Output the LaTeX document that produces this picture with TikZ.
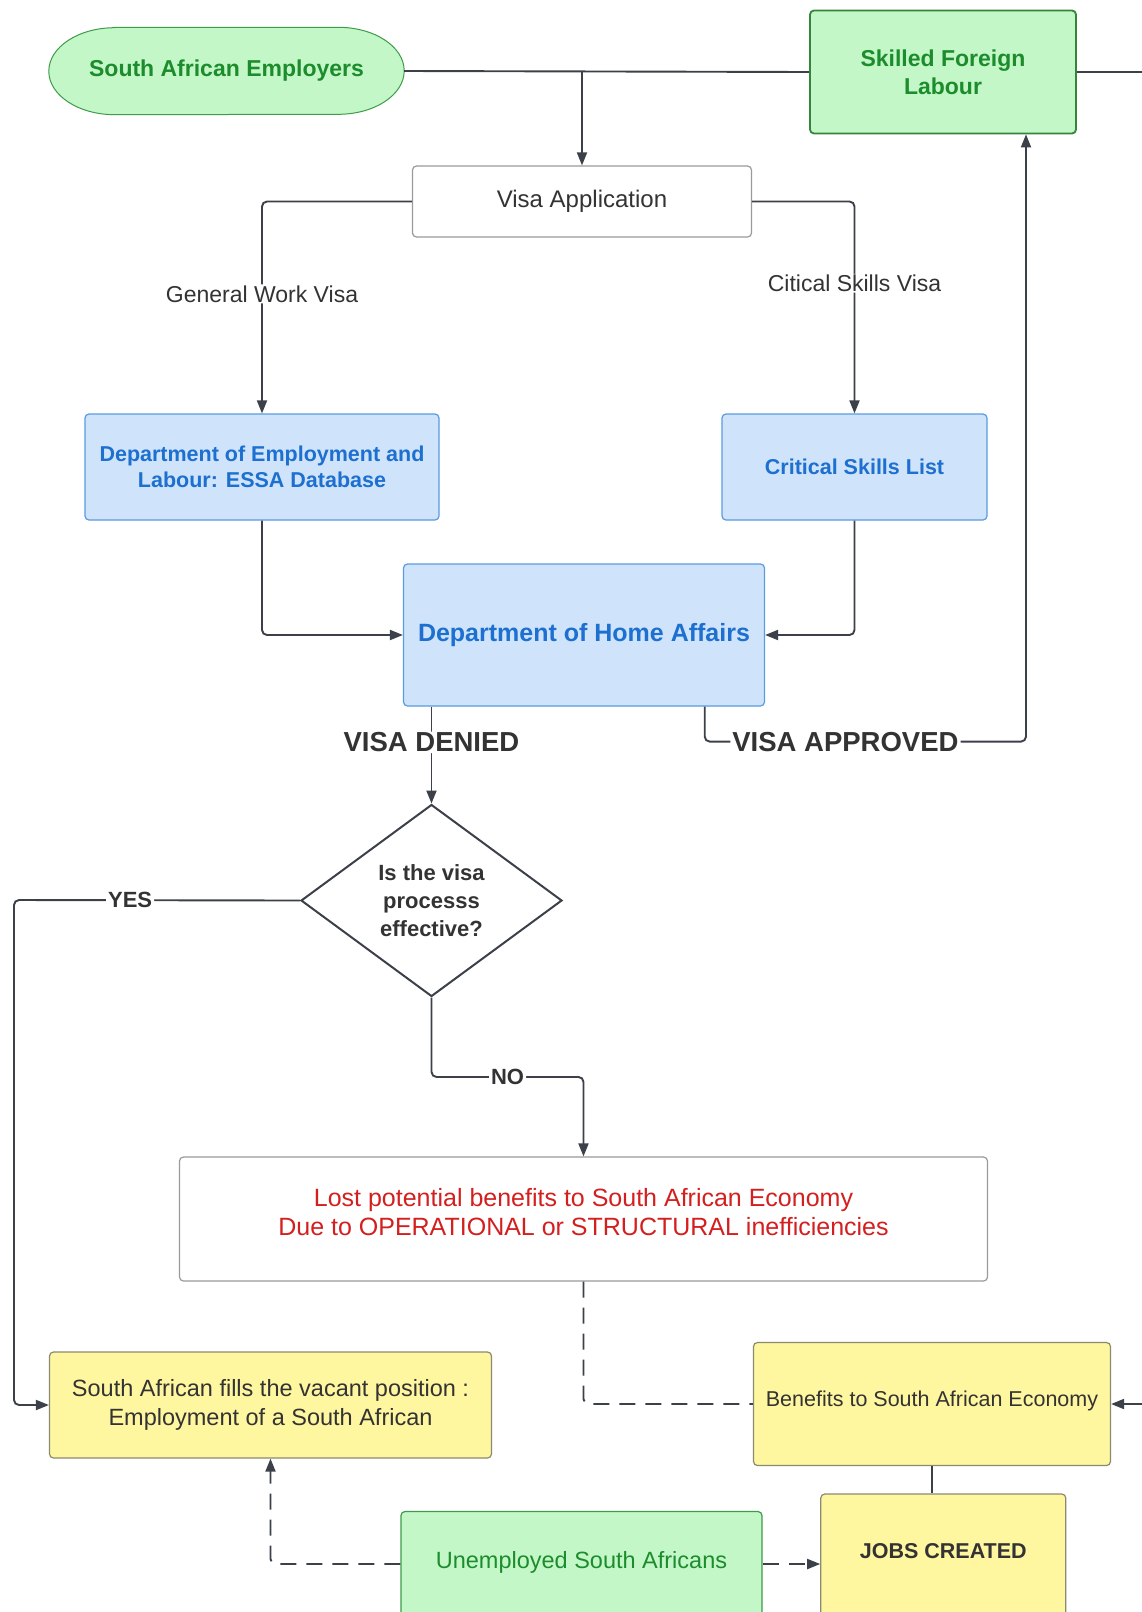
\documentclass[tikz,border=0pt]{standalone}
\usepackage{fontspec}
\setmainfont{Liberation Sans}
\usetikzlibrary{arrows.meta,shapes.geometric,calc,backgrounds}
\definecolor{linec}{HTML}{3B4049}
\definecolor{gfill}{HTML}{C3F7C8}
\definecolor{gdraw}{HTML}{3E9C48}
\definecolor{gtext}{HTML}{1C8C2C}
\definecolor{bfill}{HTML}{CFE4FA}
\definecolor{bdraw}{HTML}{5A9BE0}
\definecolor{btext}{HTML}{1D6FD0}
\definecolor{yfill}{HTML}{FFF6A0}
\definecolor{ydraw}{HTML}{8C8A6E}
\definecolor{wdraw}{HTML}{9A9A9A}
\definecolor{textc}{HTML}{333333}
\definecolor{redc}{HTML}{D41F1F}
\newcommand{\fs}[2]{\fontsize{#1}{#2}\selectfont}
\begin{document}
\begin{tikzpicture}[x=1pt,y=-1pt,
  box/.style={draw, rounded corners=4pt, align=center, inner sep=0pt, line width=1.2pt},
  greenbox/.style={box, fill=gfill, draw=gdraw, text=gtext},
  bluebox/.style={box, fill=bfill, draw=bdraw, text=btext},
  yellowbox/.style={box, fill=yfill, draw=ydraw, text=textc},
  whitebox/.style={box, fill=white, draw=wdraw, text=textc},
  conn/.style={draw=linec, line width=1.9pt, rounded corners=5pt},
  arr/.style={conn, -{Triangle[length=13pt,width=10pt]}},
  dconn/.style={conn, dash pattern=on 16pt off 10pt},
  darr/.style={dconn, -{Triangle[length=13pt,width=10pt]}},
  lbl/.style={fill=white, inner xsep=2pt, inner ysep=1pt, text=textc},
]
\useasboundingbox (0,0) rectangle (1142,1612);

% nodes
\node[minimum width=355pt, minimum height=87pt, inner sep=0pt, text=gtext, font=\bfseries\fs{23}{28}] (emp) at (226.5,71) {South African Employers};
\begin{scope}[on background layer]
\fill[white] (0,0) rectangle (1142,1612);
\filldraw[fill=gfill, draw=gdraw, line width=1pt]
  ([xshift=66pt]emp.north west) -- ([xshift=-66pt]emp.north east)
  arc[start angle=90, end angle=-90, x radius=66pt, y radius=43.5pt]
  -- ([xshift=66pt]emp.south west)
  arc[start angle=270, end angle=90, x radius=66pt, y radius=43.5pt] -- cycle;
\end{scope}
\node[greenbox, draw=gdraw!85!black, line width=1.8pt, minimum width=266pt, minimum height=123pt, font=\bfseries\fs{23}{28}] (skill) at (943,72) {Skilled Foreign\\Labour};
\node[whitebox, minimum width=339pt, minimum height=71pt, font=\fs{24}{28}] (visa) at (582,201.5) {Visa Application};
\node[bluebox, minimum width=354pt, minimum height=106pt, font=\bfseries\fs{21.5}{26}] (essa) at (262,467) {Department of Employment and\\Labour: ESSA Database};
\node[bluebox, minimum width=265pt, minimum height=106pt, font=\bfseries\fs{21.5}{26}] (crit) at (854.5,467) {Critical Skills List};
\node[bluebox, minimum width=361pt, minimum height=142pt, font=\bfseries\fs{25}{30}] (home) at (584,635) {Department of Home Affairs};
\node[diamond, draw=linec, line width=2pt, fill=white, text=textc, align=center, inner sep=0pt, aspect=1.36, minimum width=261pt, minimum height=192pt, font=\bfseries\fs{22}{28.3}] (dia) at (431.5,900.5) {Is the visa\\processs\\effective?};
\node[whitebox, minimum width=808pt, minimum height=124pt, text=redc, font=\fs{25}{29}] (lost) at (583.5,1219) {\raisebox{4pt}[\height][\depth]{\begin{tabular}{@{}c@{}}Lost potential benefits to South African Economy\\Due to OPERATIONAL or STRUCTURAL inefficiencies\end{tabular}}};
\node[yellowbox, minimum width=442pt, minimum height=106pt, font=\fs{23.5}{28.6}] (fills) at (270.5,1405) {South African fills the vacant position :\\Employment of a South African};
\node[yellowbox, minimum width=357pt, minimum height=123pt, font=\fs{21.5}{26}] (bene) at (932,1404) {\raisebox{3pt}[\height][\depth]{Benefits to South African Economy}};
\node[yellowbox, minimum width=245pt, minimum height=140pt, font=\bfseries\fs{21.5}{26}] (jobs) at (943.3,1564) {\raisebox{13pt}[\height][\depth]{JOBS CREATED}};
\node[greenbox, minimum width=361pt, minimum height=105pt, font=\fs{23.5}{28}] (unemp) at (581.5,1564) {\raisebox{2pt}[\height][\depth]{Unemployed South Africans}};

\coordinate (edgeA) at (1142,72);
\coordinate (edgeB) at (1142,1404);
\coordinate (yesx) at (14,900);

% connectors
\draw[conn] (emp.east) -- (skill.west);
\draw[conn] (skill.east) -- (edgeA);
\draw[arr] (emp.east -| visa.north) -- (visa.north);
\draw[arr] (visa.west) -| node[lbl, pos=0.718, font=\fs{23}{28}] {General Work Visa} (essa.north);
\draw[arr] (visa.east) -| node[lbl, pos=0.693, font=\fs{23}{28}] {Citical Skills Visa} (crit.north);
\draw[arr] (essa.south) |- (home.west);
\draw[arr] (crit.south) |- (home.east);
\draw[arr] (dia.north |- home.south) -- node[lbl, pos=0.37, font=\bfseries\fs{27.5}{30}] {VISA DENIED} (dia.north);
\draw[arr] ([xshift=120.7pt]home.south) -- ++(0,35) -| node[lbl, pos=0.219, font=\bfseries\fs{27.5}{30}] {VISA APPROVED} ([xshift=83pt]skill.south);
\draw[arr] (dia.west) -- node[lbl, pos=0.594, font=\bfseries\fs{22}{26}] {YES} (yesx) |- (fills.west);
\draw[arr] (dia.south) |- ($(dia.south)!0.5!(lost.north)$) node[lbl, font=\bfseries\fs{22}{26}] {NO} -| (lost.north);
\draw[dconn] (lost.south) |- (bene.west);
\draw[arr] (edgeB) -- (bene.east);
\draw[conn, line width=1.2pt] (bene.south) -- (bene.south |- jobs.north);
\draw[darr] (unemp.west) -| (fills.south);
\draw[darr] (unemp.east) -- (jobs.west);
\end{tikzpicture}
\end{document}
